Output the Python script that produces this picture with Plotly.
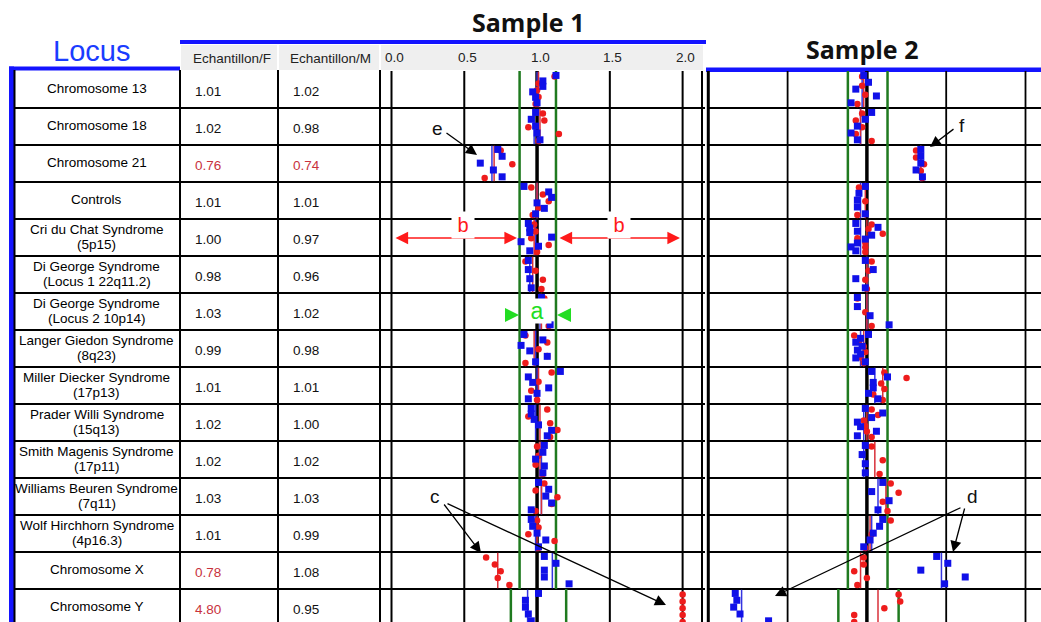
import plotly.graph_objects as go

W, H = 1041, 622
TOP, RH = 71, 37  # first row top pixel, row height in pixels

# ---------------- data ----------------
loci = ["Chromosome 13", "Chromosome 18", "Chromosome 21", "Controls",
        "Cri du Chat Syndrome<br>(5p15)", "Di George Syndrome<br>(Locus 1 22q11.2)",
        "Di George Syndrome<br>(Locus 2 10p14)", "Langer Giedon Syndrome<br>(8q23)",
        "Miller Diecker Syndrome<br>(17p13)", "Prader Willi Syndrome<br>(15q13)",
        "Smith Magenis Syndrome<br>(17p11)", "Williams Beuren Syndrome<br>(7q11)",
        "Wolf Hirchhorn Syndrome<br>(4p16.3)", "Chromosome X", "Chromosome Y"]
ech_F = [1.01, 1.02, 0.76, 1.01, 1.00, 0.98, 1.03, 0.99, 1.01, 1.02, 1.02, 1.03, 1.01, 0.78, 4.80]
ech_M = [1.02, 0.98, 0.74, 1.01, 0.97, 0.96, 1.02, 0.98, 1.01, 1.00, 1.02, 1.03, 0.99, 1.08, 0.95]
tick_vals = [0.0, 0.5, 1.0, 1.5, 2.0]
tick_labels = ["0.0", "0.5", "1.0", "1.5", "2.0"]
thr_lo, thr_hi = 0.88, 1.13
thr_lo_Y, thr_hi_Y = 0.82, 1.20

# Sample 1 : blue squares (M) and red dots (F), per locus row
s1_blue = [
    [1.13, 1.04, 1.04, 0.97, 0.99, 1.00],
    [0.99, 0.96, 0.99, 1.00, 1.02],
    [0.73, 0.76, 0.61, 0.70, 0.76],
    [0.91, 1.08, 1.10, 1.00, 1.05, 0.99],
    [0.94, 0.95, 0.95, 1.10, 0.89, 1.01, 0.95],
    [0.94, 0.94, 0.95, 0.96],
    [1.03, 1.04, 1.09],
    [0.91, 1.04, 0.89, 0.95, 1.07, 0.99],
    [1.16, 0.94, 0.97, 1.08, 1.00, 0.94],
    [0.96, 0.96, 0.98, 1.01, 1.10, 1.07],
    [1.05, 1.04, 0.99, 1.05, 1.04],
    [1.01, 1.08, 1.06, 1.10, 0.96],
    [0.96, 0.97, 1.00, 1.06, 1.01],
    [1.05, 1.13, 1.05, 1.05, 1.22],
    [1.01, 0.92, 0.92, 0.94, 0.96],
]
s1_red = [
    [1.12, 1.01, 1.00, 1.01, 0.99],
    [1.04, 1.05, 0.94, 1.15, 1.01],
    [0.75, 0.83, 0.64],
    [0.96, 1.04, 1.08, 1.01, 0.97],
    [0.98, 0.99, 0.96, 1.08, 1.00],
    [0.92, 0.99, 1.04, 1.03],
    [1.05, 1.03, 1.08],
    [0.92, 1.07, 1.01, 1.07, 0.92],
    [1.10, 1.01, 0.96, 1.00],
    [1.07, 0.94, 1.09, 1.14, 1.09],
    [1.00, 1.01, 0.99, 1.04],
    [1.05, 0.99, 1.14, 1.10, 0.99],
    [1.00, 1.01, 0.94, 1.12, 1.01],
    [0.65, 0.71, 0.75, 0.73, 0.81],
    [2.00, 2.00, 2.00, 2.00, 2.00],
]
s1_blue_line = [1.00, 0.98, 0.69, 1.00, 0.99, 0.95, 1.02, 0.99, 1.00, 0.99, 1.03, 1.03, 0.99, 1.105, 0.935]
s1_red_line = [1.01, 1.02, 0.705, 1.00, 0.98, 0.97, 1.03, 0.98, 1.01, 1.02, 1.02, 1.03, 1.00, 0.73, None]

# Sample 2
s2_blue = [
    [0.98, 1.01, 0.93, 1.06, 0.90],
    [1.03, 0.99, 0.94, 0.90, 0.94],
    [1.34, 1.34, 1.34, 1.31, 1.35],
    [0.99, 0.95, 0.94, 0.94, 0.99],
    [0.93, 1.07, 0.94, 1.03, 0.99, 0.94, 0.90, 0.93],
    [0.99, 1.04, 0.93, 0.99],
    [0.94, 0.94, 1.02, 1.14],
    [1.01, 0.96, 0.93, 0.97, 0.94, 0.96, 0.93, 0.99],
    [1.03, 1.13, 1.04, 1.04, 1.01, 1.07],
    [0.99, 1.10, 1.03, 0.94, 0.96, 1.06, 0.94],
    [0.99, 0.97, 0.99, 0.99],
    [1.10, 1.03, 1.14, 1.07],
    [1.10, 1.08, 1.04, 1.02, 0.98],
    [1.44, 1.51, 1.34, 1.62, 1.49],
    [0.17, 0.18, 0.16, 0.20, 0.38],
]
s2_red = [
    [0.97, 0.97, 0.99, 0.94],
    [0.97, 0.93, 0.97, 0.93, 1.03],
    [1.31, 1.31, 1.36, 1.34, 1.35],
    [0.95, 0.99, 0.94],
    [1.03, 1.01, 1.10, 0.94, 0.99, 0.99, 0.99],
    [1.03, 1.01, 0.99, 1.00],
    [0.94, 0.99, 1.03],
    [0.92, 0.95, 0.98, 0.99, 0.96, 0.98],
    [1.11, 1.25, 1.09, 1.11, 1.04, 1.10],
    [1.03, 1.07, 0.98, 0.99, 1.00, 1.03],
    [1.03, 1.10, 1.08],
    [1.15, 1.20, 1.10, 1.13],
    [1.15, 1.03, 0.99],
    [0.98, 0.98, 0.92, 1.00, 0.94],
    [1.20, 1.21, 1.11, 0.92, 0.92],
]
s2_blue_line = [0.97, 0.96, 1.34, 0.96, 0.96, 1.00, 1.00, 0.96, 1.05, 0.98, 0.98, 1.07, 1.03, 1.47, 0.21]
s2_red_line = [0.98, 0.96, 1.34, 0.99, 1.00, 1.00, 1.00, 0.98, 1.10, 1.00, 1.05, 1.12, 1.02, 0.96, 1.07]

# ---------------- helpers ----------------
def ry(py):
    return (py - TOP) / RH

NROW = len(loci)
Y_BOT = ry(H)
FONT = "Liberation Sans, Arial, sans-serif"
BLUE = "#1010e8"
RED = "#ee1c1c"
GREEN = "#1f7a1f"
BLUEBAR = "#1414ff"

def pts(rows, off):
    xs, ys = [], []
    for i, vals in enumerate(rows):
        n = len(vals)
        for k, v in enumerate(vals):
            f = 0.5 if n == 1 else 0.12 + 0.74 * k / (n - 1)
            xs.append(v)
            ys.append(i + f + off)
    return xs, ys

def vlines(vals):
    xs, ys = [], []
    for i, v in enumerate(vals):
        if v is None:
            continue
        xs += [v, v, None]
        ys += [i + 0.02, i + 0.98, None]
    return xs, ys

fig = go.Figure()

for xa, blue, red, bl, rl in [("x2", s1_blue, s1_red, s1_blue_line, s1_red_line),
                              ("x3", s2_blue, s2_red, s2_blue_line, s2_red_line)]:
    lx, ly = vlines(bl)
    fig.add_trace(go.Scatter(x=lx, y=ly, xaxis=xa, yaxis="y", mode="lines",
                             line=dict(color="#3535e0", width=1.5), hoverinfo="skip", showlegend=False))
    lx, ly = vlines(rl)
    fig.add_trace(go.Scatter(x=lx, y=ly, xaxis=xa, yaxis="y", mode="lines",
                             line=dict(color="#d8303a", width=1.5), hoverinfo="skip", showlegend=False))
    rx, ryy = pts(red, 0.03)
    fig.add_trace(go.Scatter(x=rx, y=ryy, xaxis=xa, yaxis="y", mode="markers",
                             marker=dict(symbol="circle", size=6.5, color=RED, line=dict(width=0)),
                             showlegend=False))
    bx, byy = pts(blue, 0.0)
    fig.add_trace(go.Scatter(x=bx, y=byy, xaxis=xa, yaxis="y", mode="markers",
                             marker=dict(symbol="square", size=7, color=BLUE, line=dict(width=0)),
                             showlegend=False))

shapes = []
def rect(x0, x1, py0, py1, color, xref="x"):
    shapes.append(dict(type="rect", xref=xref, yref="y", x0=x0, x1=x1, y0=ry(py0), y1=ry(py1),
                       fillcolor=color, line=dict(width=0), layer="below"))

def line(x0, y0, x1, y1, w=2, color="black", xref="x"):
    shapes.append(dict(type="line", xref=xref, yref="y", x0=x0, x1=x1, y0=y0, y1=y1,
                       line=dict(color=color, width=w), layer="below"))

# header cells
rect(181, 277, 45, 70, "#efefef")
rect(279, 379, 45, 70, "#efefef")
rect(381, 703, 45, 70, "#efefef")
# blue bars
rect(180, 706, 40, 44, BLUEBAR)
rect(706, W, 67.5, 72, BLUEBAR)
rect(9, 180, 66.5, 70.5, BLUEBAR)
rect(9, 14, 66.5, H, BLUEBAR)

# table / panel verticals (pixel positions)
for px in [14.5, 180, 278, 380]:
    line(px, ry(70), px, Y_BOT)
line(702, 0, 702, Y_BOT)
# row separators
for i in range(1, NROW):
    line(14, i, 705, i)
    line(708, i, W, i, w=1.8)

# sample 1 grid
for v in tick_vals:
    line(v, 0, v, Y_BOT, w=3 if v == 1.0 else 2, xref="x2")
# sample 2 grid
for v in tick_vals:
    line(v, 0, v, Y_BOT, w=3 if v in (0.0, 1.0) else 1.8, xref="x3")

# threshold lines
for xa in ["x2", "x3"]:
    for v in [thr_lo, thr_hi]:
        line(v, 0, v, NROW - 1, w=2.5, color=GREEN, xref=xa)
    for v in [thr_lo_Y, thr_hi_Y]:
        line(v, NROW - 1, v, Y_BOT, w=2.5, color=GREEN, xref=xa)
    line(1.0, 0, 1.0, Y_BOT, w=3, xref=xa)

ann = []
def txt(x, py, s, size=13, color="#111", xanchor="center", family=FONT, xref="x", xshift=0, yshift=0, **kw):
    d = dict(x=x, y=ry(py), xref=xref, yref="y", text=s, showarrow=False, xanchor=xanchor,
             yanchor="middle", font=dict(family=family, size=size, color=color),
             xshift=xshift, yshift=yshift)
    d.update(kw)
    ann.append(d)

def arrow(tx, ty, hx, hy, color="black", width=1.3, size=1.7, side="end"):
    ann.append(dict(x=hx, y=ry(hy), xref="x", yref="y", ax=tx, ay=ry(ty), axref="x", ayref="y",
                    text="", showarrow=True, arrowhead=2, arrowsize=size, arrowwidth=width,
                    arrowcolor=color, arrowside=side, standoff=0, startstandoff=0))

# titles
txt(528, 22, "<b>Sample 1</b>", size=25, color="#111", family="Open Sans, sans-serif")
txt(862, 49, "<b>Sample 2</b>", size=25, color="#111", family="Open Sans, sans-serif")
txt(91, 51, "Locus", size=29, color="#1a3cff")
txt(232, 58, "Echantillon/F", size=13.5, color="#222")
txt(330, 58, "Echantillon/M", size=13.5, color="#222")
for v, lab in zip(tick_vals, tick_labels):
    txt(v, 57, lab, size=13.5, color="#222", xref="x2", xshift=3)

# table body
for i, name in enumerate(loci):
    cy = TOP + RH * (i + 0.5)
    parts = name.split("<br>")
    if len(parts) == 1:
        txt(96.5, cy - 1.5, parts[0], size=13.5, color="#000")
    else:
        txt(96.5, cy - 8.5, parts[0], size=13.5, color="#000")
        txt(96.5, cy + 6.5, parts[1], size=13.5, color="#000")
    for xpos, val in [(193, ech_F[i]), (291, ech_M[i])]:
        col = "#c8323c" if abs(val - 1) > 0.15 else "#111"
        txt(xpos, cy + 2, f"{val:.2f}", size=13.5, color=col, xanchor="left")

# annotation letters
txt(437, 128, "e", size=19)
arrow(445, 132, 477, 155)
txt(962, 125, "f", size=19)
arrow(955, 128, 930, 147)
txt(435, 496, "c", size=19)
arrow(443, 503, 481, 553)
arrow(446, 503, 666, 605)
txt(972, 496, "d", size=19)
arrow(965, 507, 953, 552)
arrow(962, 507, 775, 596)
arrow(394, 238, 517, 238, color="#ff1a1a", width=1.4, size=1.8, side="end+start")
arrow(558, 238, 680, 238, color="#ff1a1a", width=1.4, size=1.8, side="end+start")
txt(463, 225, "b", size=20, color="#ff1a1a", bgcolor="white", width=20, height=24)
txt(619, 225, "b", size=20, color="#ff1a1a", bgcolor="white", width=20, height=24)
txt(537, 311, "a", size=23, color="#22dd22", bgcolor="white", width=26, height=22)
arrow(507, 315, 519, 315, color="#22dd22", width=2, size=1.4)
arrow(570, 315, 557, 315, color="#22dd22", width=2, size=1.4)

fig.update_layout(
    width=W, height=H, autosize=False,
    margin=dict(l=0, r=0, t=0, b=0, pad=0),
    paper_bgcolor="white", plot_bgcolor="rgba(0,0,0,0)",
    showlegend=False,
    xaxis=dict(domain=[0, 1], range=[0, W], visible=False, fixedrange=True),
    xaxis2=dict(domain=[380 / W, 705 / W], range=[(380 - 391.5) / 145.56, (705 - 391.5) / 145.56],
                anchor="y", visible=False, fixedrange=True),
    xaxis3=dict(domain=[706 / W, 1], range=[(706 - 708.3) / 158.6, (W - 708.3) / 158.6],
                anchor="y", visible=False, fixedrange=True),
    yaxis=dict(domain=[0, 1], range=[Y_BOT, ry(0)], visible=False, fixedrange=True),
    shapes=shapes, annotations=ann,
)

fig.write_html("out.html", config={"displayModeBar": False},
               post_script="document.body.style.margin='0';document.body.style.overflow='hidden';")
